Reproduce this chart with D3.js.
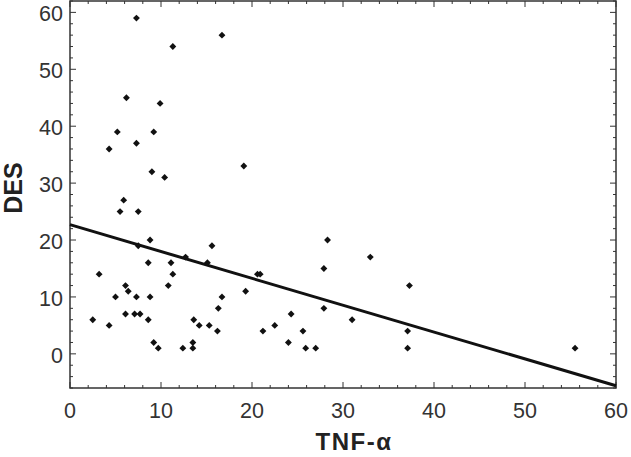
<!DOCTYPE html>
<html>
<head>
<meta charset="utf-8">
<script src="https://cdn.jsdelivr.net/npm/d3@7"></script>
<style>
  body { margin: 0; background: #fff; }
  text { font-family: "Liberation Sans", Arial, sans-serif; }
</style>
</head>
<body>
<script>
// TNF-alpha values (x) and DES values (y)
const tnf = [7.3, 11.3, 16.7, 6.2, 9.9, 5.2, 9.2, 4.3, 7.3, 9.0, 10.4, 19.1, 5.9,
  5.5, 7.5, 7.5, 8.8, 8.6, 3.2, 6.1, 6.4, 5.0, 7.3, 8.8, 6.1, 7.1, 7.7, 2.5, 8.6,
  4.3, 9.2, 9.7, 11.1, 11.3, 10.8, 12.7, 12.4, 13.5, 13.5, 13.6, 14.2, 15.3, 15.1,
  15.6, 16.2, 16.3, 16.7, 19.3, 20.6, 20.9, 21.2, 22.5, 24.0, 24.3, 25.6, 25.9,
  27.0, 28.3, 27.9, 33.0, 37.3, 27.9, 31.0, 37.1, 37.1, 55.5];
const des = [59, 54, 56, 45, 44, 39, 39, 36, 37, 32, 31, 33, 27,
  25, 25, 19, 20, 16, 14, 12, 11, 10, 10, 10, 7, 7, 7, 6, 6,
  5, 2, 1, 16, 14, 12, 17, 1, 2, 1, 6, 5, 5, 16,
  19, 4, 8, 10, 11, 14, 14, 4, 5, 2, 7, 4, 1,
  1, 20, 15, 17, 12, 8, 6, 4, 1, 1];

// regression line end points
const fitX = [0, 60];
const fitY = [22.7, -5.6];

const xTicks = [0, 10, 20, 30, 40, 50, 60];
const yTicks = [0, 10, 20, 30, 40, 50, 60];

const w = 631, h = 457;
const pl = 70, pr = 616, pt = 1, pb = 388;

const svg = d3.select("body").append("svg")
  .attr("width", w).attr("height", h);

const x = d3.scaleLinear().domain([0, 60]).range([pl, pr]);
const y = d3.scaleLinear().domain([-6, 62]).range([pb, pt]);

const minorX = d3.range(0, 61, 2);
const minorY = d3.range(-6, 63, 2);

const tickCol = "#333";

// minor + major ticks, inward, on all four sides
let ticks = svg.append("g").attr("stroke", tickCol).attr("stroke-width", 1);
minorX.forEach(v => {
  let len = v % 10 === 0 ? 6 : 3;
  ticks.append("line").attr("x1", x(v)).attr("x2", x(v)).attr("y1", pb).attr("y2", pb - len);
  ticks.append("line").attr("x1", x(v)).attr("x2", x(v)).attr("y1", pt).attr("y2", pt + len);
});
minorY.forEach(v => {
  let len = v % 10 === 0 ? 6 : 3;
  ticks.append("line").attr("y1", y(v)).attr("y2", y(v)).attr("x1", pl).attr("x2", pl + len);
  ticks.append("line").attr("y1", y(v)).attr("y2", y(v)).attr("x1", pr).attr("x2", pr - len);
});

// frame
svg.append("rect")
  .attr("x", pl).attr("y", pt)
  .attr("width", pr - pl).attr("height", pb - pt)
  .attr("fill", "none").attr("stroke", tickCol).attr("stroke-width", 1.5);

// tick labels
svg.append("g").selectAll("text").data(xTicks).enter().append("text")
  .attr("x", d => x(d)).attr("y", 418)
  .attr("text-anchor", "middle")
  .attr("font-size", 21.5).attr("fill", "#333")
  .text(d => d);

svg.append("g").selectAll("text").data(yTicks).enter().append("text")
  .attr("x", pl - 7).attr("y", d => y(d) + 9)
  .attr("text-anchor", "end")
  .attr("font-size", 21.5).attr("fill", "#333")
  .text(d => d);

// axis titles
svg.append("text")
  .attr("x", 354).attr("y", 450)
  .attr("text-anchor", "middle")
  .attr("font-size", 24).attr("font-weight", "bold").attr("fill", "#222")
  .attr("letter-spacing", 1.5)
  .text("TNF-α");

svg.append("text")
  .attr("transform", "translate(22,188) rotate(-90)")
  .attr("text-anchor", "middle")
  .attr("font-size", 25).attr("font-weight", "bold").attr("fill", "#222")
  .text("DES");

// fit line
svg.append("line")
  .attr("x1", x(fitX[0])).attr("y1", y(fitY[0]))
  .attr("x2", x(fitX[1])).attr("y2", y(fitY[1]))
  .attr("stroke", "#111").attr("stroke-width", 3);

// points
const diamond = d3.symbol().type(d3.symbolDiamond2).size(30);
svg.append("g").selectAll("path").data(tnf).enter().append("path")
  .attr("d", diamond)
  .attr("transform", (d, i) => `translate(${x(d)},${y(des[i])})`)
  .attr("fill", "#111");
</script>
</body>
</html>
